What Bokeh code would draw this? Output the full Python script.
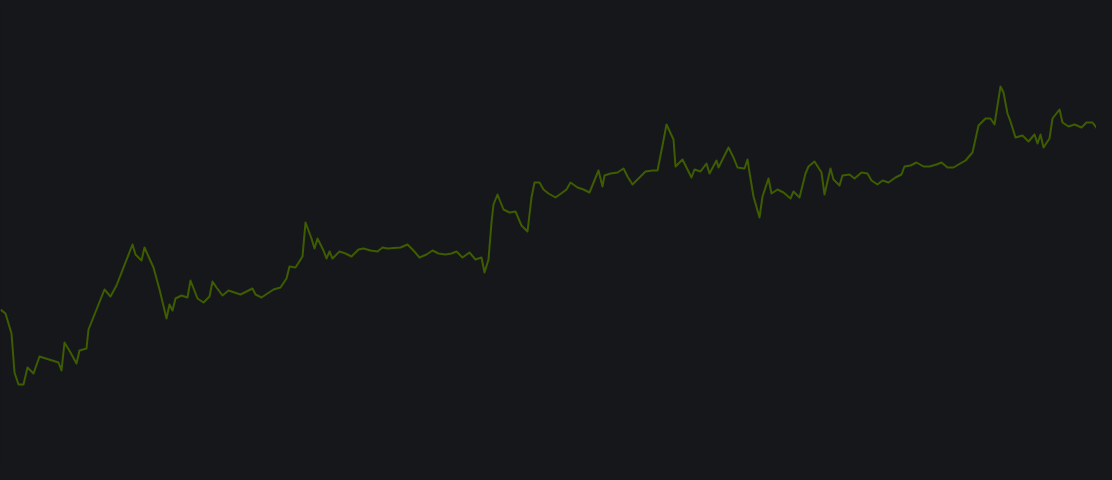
from bokeh.plotting import figure
from bokeh.models import Range1d
from bokeh.embed import file_html
from bokeh.resources import INLINE

day = [0, 5, 11, 14, 18, 23, 27, 33, 39, 58, 61, 64, 70, 76, 79, 86, 88, 104, 110, 116,
       132, 135, 141, 144, 148, 153, 159, 166, 169, 172, 175, 181, 187, 190, 197, 203, 209, 212, 216, 222,
       228, 240, 252, 255, 261, 267, 273, 280, 286, 289, 295, 302, 305, 311, 314, 317, 323, 326, 329, 332,
       339, 345, 351, 358, 363, 370, 377, 382, 387, 400, 407, 413, 419, 426, 432, 438, 445, 451, 456, 462,
       469, 475, 481, 484, 488, 491, 493, 497, 503, 509, 515, 521, 527, 531, 534, 539, 543, 548, 555, 562,
       566, 570, 577, 583, 589, 598, 602, 604, 610, 617, 623, 627, 632, 639, 645, 652, 657, 662, 666, 673,
       675, 682, 691, 694, 700, 706, 709, 716, 718, 728, 733, 737, 744, 747, 749, 753, 759, 762, 768, 771,
       777, 783, 790, 793, 799, 805, 808, 814, 821, 824, 830, 833, 839, 842, 849, 854, 861, 867, 871, 877,
       882, 888, 895, 901, 904, 910, 916, 923, 929, 936, 941, 947, 953, 958, 965, 972, 978, 985, 990, 994,
       1000, 1003, 1007, 1010, 1015, 1022, 1028, 1034, 1037, 1040, 1043, 1049, 1052, 1059, 1062, 1068, 1074, 1081, 1086, 1092,
       1098, 1102, 1108, 1112]

value = [171, 167, 147, 108, 96, 96, 113, 107, 124, 118, 110, 138, 128, 117, 130, 132, 151, 191, 184, 195,
         236, 226, 220, 233, 224, 213, 191, 162, 176, 170, 182, 185, 183, 200, 182, 178, 184, 199, 193, 185,
         190, 186, 192, 186, 183, 187, 191, 193, 202, 214, 213, 224, 258, 242, 232, 242, 230, 222, 229, 222,
         229, 227, 224, 231, 232, 230, 229, 233, 232, 233, 236, 230, 223, 226, 230, 227, 226, 227, 229, 223,
         228, 221, 223, 208, 221, 258, 276, 286, 271, 268, 269, 255, 249, 283, 298, 298, 291, 287, 283, 288,
         291, 298, 293, 291, 288, 310, 294, 305, 307, 308, 312, 304, 296, 303, 309, 310, 310, 335, 356, 341,
         314, 321, 303, 311, 309, 317, 307, 320, 313, 333, 323, 313, 312, 321, 308, 284, 263, 284, 302, 287,
         291, 288, 282, 289, 283, 307, 314, 319, 308, 286, 312, 301, 295, 305, 306, 302, 308, 307, 300, 296,
         300, 298, 303, 306, 314, 315, 318, 314, 314, 316, 318, 313, 313, 316, 320, 328, 355, 362, 362, 356,
         394, 388, 367, 359, 343, 345, 339, 346, 337, 346, 333, 342, 362, 371, 358, 354, 356, 353, 358, 358,
         350, 341, 339, 343]

BG = "#16171b"
LINE = "#3e5c00"

p = figure(width=1096, height=464, output_backend="svg", toolbar_location=None,
           x_range=Range1d(0, 1096), y_range=Range1d(16, 480),
           background_fill_color=BG, border_fill_color=BG, min_border=0)
p.axis.visible = False
p.grid.visible = False
p.outline_line_color = None

p.line(day, value, line_color=LINE, line_width=2, line_join="round")

html = file_html(p, INLINE)
html = html.replace("</head>", "<style>html,body{background:#16171b;}</style></head>", 1)
open("out.html", "w").write(html)
